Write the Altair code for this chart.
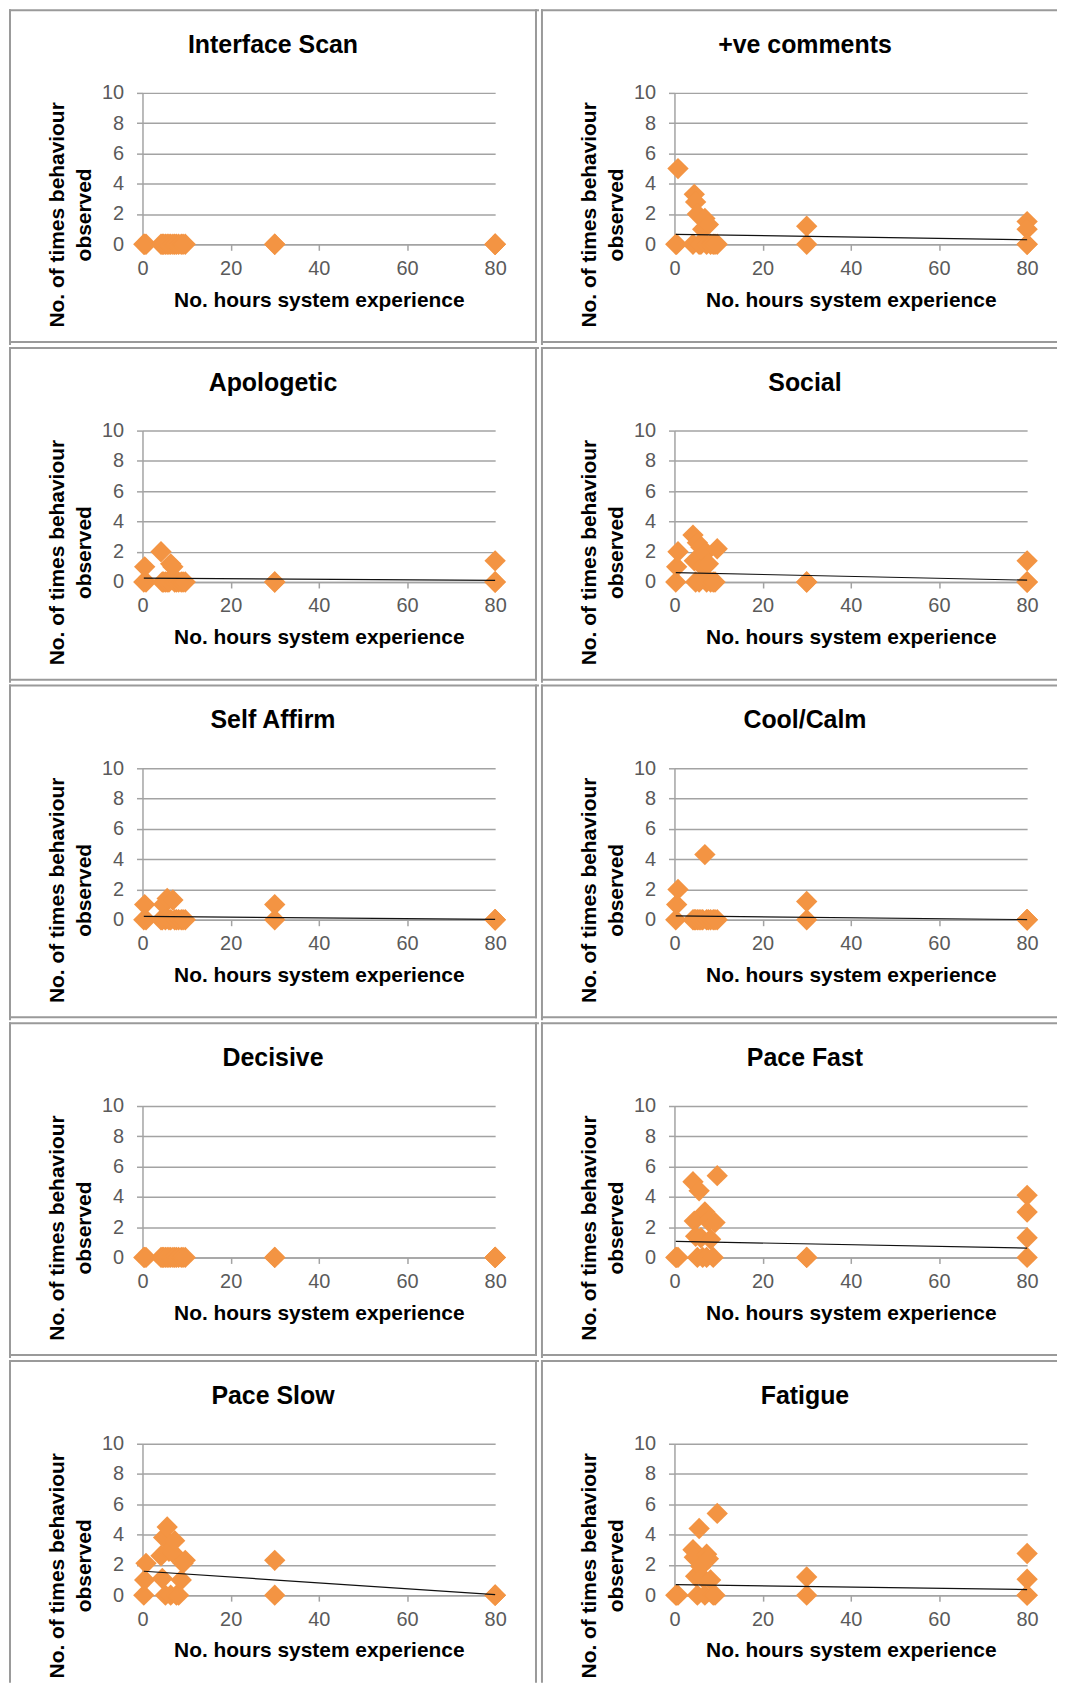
import altair as alt
import pandas as pd

# ---------------- data ----------------
TITLES = ["Interface Scan", "+ve comments", "Apologetic", "Social", "Self Affirm",
          "Cool/Calm", "Decisive", "Pace Fast", "Pace Slow", "Fatigue"]

# hours of system experience of each participant
HOURS = [0.3, 0.5, 0.8, 4.2, 4.5, 4.8, 5.2, 5.6, 6.0, 6.4, 6.9, 7.3,
         7.7, 8.2, 8.8, 9.2, 9.7, 30, 30, 80, 80, 80, 80]

INTERFACE_SCAN = [0, 0, 0, 0, 0, 0, 0, 0, 0, 0, 0, 0, 0, 0, 0, 0, 0, 0, 0, 0, 0, 0, 0]
POSITIVE_COMMENTS = [0, 0, 5.0, 0, 3.3, 2.8, 2.0, 0, 0, 1.0, 1.7, 0, 1.3, 0, 0, 0, 0, 1.2, 0, 1.5, 1.0, 0, 0]
APOLOGETIC = [0, 1.0, 0, 2.0, 0, 0, 0, 0, 0, 1.2, 1.0, 0, 0, 0, 0, 0, 0, 0, 0, 1.4, 0, 0, 0]
SOCIAL = [0, 1.0, 2.0, 3.1, 1.4, 0, 2.6, 0, 2.3, 1.0, 1.9, 0, 1.2, 0, 0, 0, 2.2, 0, 0, 1.4, 0, 0, 0]
SELF_AFFIRM = [0, 1.0, 0, 0, 0, 1.0, 0, 1.4, 0, 0, 1.3, 0, 0, 0, 0, 0, 0, 1.0, 0, 0, 0, 0, 0]
COOL_CALM = [0, 1.0, 2.0, 0, 0, 0, 0, 0, 0, 0, 4.3, 0, 0, 0, 0, 0, 0, 1.2, 0, 0, 0, 0, 0]
DECISIVE = [0, 0, 0, 0, 0, 0, 0, 0, 0, 0, 0, 0, 0, 0, 0, 0, 0, 0, 0, 0, 0, 0, 0]
PACE_FAST = [0, 0, 0, 5.0, 2.4, 1.4, 0, 4.4, 1.3, 0, 3.0, 0, 2.4, 1.2, 0, 2.3, 5.4, 0, 0, 4.1, 3.0, 1.3, 0]
PACE_SLOW = [0, 1.0, 2.1, 2.6, 1.1, 3.8, 0, 4.5, 2.9, 0, 2.8, 3.6, 0, 0, 1.0, 2.1, 2.3, 2.3, 0, 0, 0, 0, 0]
FATIGUE = [0, 0, 0, 3.0, 2.5, 1.25, 0, 4.4, 1.9, 1.15, 0, 2.7, 2.4, 1.0, 0, 0, 5.4, 1.2, 0, 2.75, 1.05, 0, 0]

SERIES = [INTERFACE_SCAN, POSITIVE_COMMENTS, APOLOGETIC, SOCIAL, SELF_AFFIRM,
          COOL_CALM, DECISIVE, PACE_FAST, PACE_SLOW, FATIGUE]

# linear trendline values at the first and last hour (None = no trendline drawn)
TREND_X = [0.3, 80]
TREND_START = [None, 0.66, 0.26, 0.62, 0.22, 0.25, None, 1.06, 1.58, 0.70]
TREND_END = [None, 0.30, 0.11, 0.12, 0.02, 0.01, None, 0.62, 0.03, 0.37]

X_TICKS = [0, 20, 40, 60, 80]
Y_TICKS = [0, 2, 4, 6, 8, 10]
X_TITLE = "No. hours system experience"
Y_TITLE = ["No. of times behaviour", "observed"]

# ---------------- styling ----------------
FONT = "Liberation Sans"
ORANGE = "#F39443"
GRID = "#a3a3a3"
FRAME = "#9a9a9a"
LABEL = "#5a5a5a"
W, H = 354, 152
ONE = pd.DataFrame({"k": [0]})

# panel box, in px relative to the plot area's top-left corner
LEFT, TOP = -134, -84
BOTTOM, LAST_BOTTOM = 253, 240
RIGHT_L, RIGHT_R = 398, 384
LINE = 2
GAP = 2  # light gap between neighbouring frames (double line look)


def box(x, x2, y, y2, fill, opacity=1):
    return (alt.Chart(ONE).mark_rect(color=fill, strokeWidth=0, opacity=opacity)
            .encode(x=alt.value(x), x2=alt.value(x2), y=alt.value(y), y2=alt.value(y2)))


def panel(i, col, row):
    title = TITLES[i]
    df = pd.DataFrame({"hours": HOURS, "count": SERIES[i]})
    X = alt.X("hours:Q",
              scale=alt.Scale(domain=[0, 80], nice=False, zero=True),
              axis=alt.Axis(values=X_TICKS, grid=False, domainColor=GRID, domainWidth=1.5,
                            tickColor=GRID, tickSize=6, tickWidth=1.5, labelFlush=False,
                            labelFont=FONT, labelFontSize=20, labelColor=LABEL, labelPadding=8,
                            title=X_TITLE, titleFont=FONT, titleFontSize=21, titleFontWeight="bold",
                            titleColor="black", titleBaseline="alphabetic", titleY=62))
    Y = alt.Y("count:Q",
              scale=alt.Scale(domain=[0, 10], nice=False, zero=True),
              axis=alt.Axis(values=Y_TICKS, grid=True, gridColor=GRID, gridWidth=1.5,
                            domainColor=GRID, domainWidth=1.5,
                            tickColor=GRID, tickSize=6, tickWidth=1.5, labelFlush=False,
                            labelFont=FONT, labelFontSize=20, labelColor=LABEL, labelPadding=13,
                            title=Y_TITLE, titleFont=FONT, titleFontSize=21, titleFontWeight="bold",
                            titleColor="black", titleAngle=270, titleAlign="center",
                            titleBaseline="alphabetic", titleLineHeight=27,
                            titleX=-79, titleY=122))

    right = RIGHT_L if col == 0 else RIGHT_R
    last = row == 4
    bottom = LAST_BOTTOM if last else BOTTOM
    layers = [
        box(LEFT, right, TOP, bottom, "white", opacity=0),     # invisible: fixes panel extent
        box(LEFT, right, TOP, TOP + LINE, FRAME),               # top edge
        box(LEFT, LEFT + LINE, TOP, bottom, FRAME),             # left edge
    ]
    if col == 0:
        layers.append(box(right - GAP - LINE, right - GAP, TOP,
                          bottom - (0 if last else GAP), FRAME))
    if not last:
        layers.append(box(LEFT, right - (GAP if col == 0 else 0),
                          bottom - GAP - LINE, bottom - GAP, FRAME))

    layers.append(alt.Chart(df).mark_point(shape="diamond", filled=True, size=460,
                                           color=ORANGE, opacity=1, strokeWidth=0)
                  .encode(x=X, y=Y))
    if TREND_START[i] is not None:
        tdf = pd.DataFrame({"hours": TREND_X, "count": [TREND_START[i], TREND_END[i]]})
        layers.append(alt.Chart(tdf).mark_line(color="#111111", strokeWidth=1.2)
                      .encode(x=X, y=Y))
    layers.append(alt.Chart(ONE).mark_text(text=title, font=FONT, fontSize=25, fontWeight="bold",
                                           align="center", baseline="alphabetic", color="black")
                  .encode(x=alt.value(131), y=alt.value(-40)))
    return alt.layer(*layers).properties(width=W, height=H)


rows = []
for r in range(5):
    rows.append(alt.hconcat(panel(2 * r, 0, r), panel(2 * r + 1, 1, r), spacing=0))

chart = (alt.vconcat(*rows, spacing=0)
         .properties(padding={"top": -3, "left": 0, "right": 0, "bottom": 0}, background="white")
         .configure_view(stroke="transparent"))

chart.save("out.html", embed_options={"renderer": "svg", "actions": False})
